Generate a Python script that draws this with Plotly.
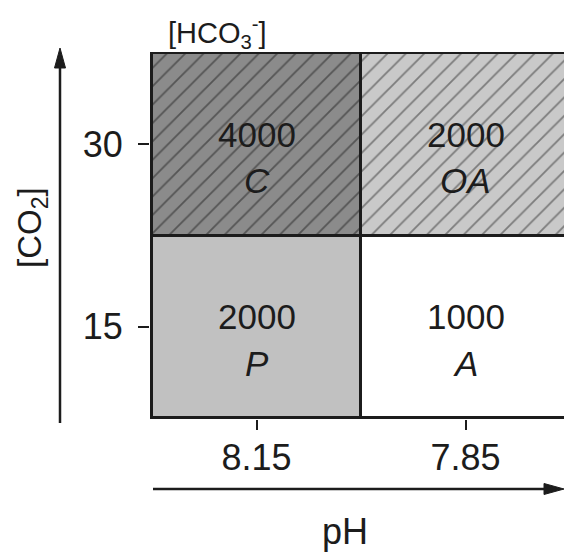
import plotly.graph_objects as go

# ---- data ----
ph_labels = ["8.15", "7.85"]          # columns (x)
co2_labels = ["15", "30"]             # rows (y), bottom to top
hco3_values = [[2000, 1000],          # row CO2 = 15
               [4000, 2000]]          # row CO2 = 30
treatments = [["P", "A"],
              ["C", "OA"]]
hatched = [[False, False],
           [True, True]]
fill_colors = {"P": "#c1c1c1", "A": "#ffffff", "C": "#8b8b8b", "OA": "#c9c9c9"}
hatch_colors = {"P": "#c1c1c1", "A": "#ffffff", "C": "#555555", "OA": "#7c7c7c"}

FONT = "Liberation Sans, Arial, sans-serif"
INK = "#1c1c1c"
W, H = 564, 552
ML, MR, MT, MB = 150, 0, 52, 133
PW, PH = W - ML - MR, H - MT - MB


def px(xp):
    return (xp - ML) / PW


def py(yp):
    return (H - MB - yp) / PH


fig = go.Figure()
annotations = []
for r, row in enumerate(treatments):
    for c, t in enumerate(row):
        pattern = dict(shape="/", fgcolor=hatch_colors[t], bgcolor=fill_colors[t],
                       size=13, solidity=0.14, fillmode="replace") if hatched[r][c] else dict(shape="")
        fig.add_trace(go.Bar(
            x=[c + 0.5], y=[1], base=[r], width=1,
            marker=dict(color=fill_colors[t], line=dict(color=INK, width=3), pattern=pattern),
            hoverinfo="skip", showlegend=False, name=t,
        ))
        annotations.append(dict(x=c + 0.5, y=r + 0.555, xref="x", yref="y",
                                text=str(hco3_values[r][c]), showarrow=False,
                                xanchor="center", yanchor="middle",
                                font=dict(size=35, color=INK, family=FONT)))
        annotations.append(dict(x=c + 0.5, y=r + 0.30, xref="x", yref="y",
                                text="<i>%s</i>" % t, showarrow=False,
                                xanchor="center", yanchor="middle",
                                font=dict(size=35, color=INK, family=FONT)))

annotations += [
    dict(x=px(32), y=py(228), xref="paper", yref="paper",
         text="[CO<sub>2</sub>]", textangle=-90, showarrow=False,
         xanchor="center", yanchor="middle",
         font=dict(size=33, color=INK, family=FONT)),
    dict(x=px(345), y=py(531), xref="paper", yref="paper",
         text="pH", showarrow=False, xanchor="center", yanchor="middle",
         font=dict(size=36, color=INK, family=FONT)),
    dict(x=px(217), y=py(33), xref="paper", yref="paper",
         text="[HCO<sub>3</sub><sup>-</sup>]", showarrow=False,
         xanchor="center", yanchor="middle",
         font=dict(size=29, color=INK, family=FONT)),
]

# arrows drawn as line + triangular head (paper coordinates)
arrow_shapes = [
    dict(type="line", xref="paper", yref="paper",
         x0=px(60), x1=px(60), y0=py(423), y1=py(64),
         line=dict(color=INK, width=2.5)),
    dict(type="path", xref="paper", yref="paper",
         path="M %f %f L %f %f L %f %f Z" % (px(54.5), py(68), px(65.5), py(68), px(60), py(48)),
         fillcolor=INK, line=dict(color=INK, width=1)),
    dict(type="line", xref="paper", yref="paper",
         x0=px(153), x1=px(548), y0=py(489), y1=py(489),
         line=dict(color=INK, width=2.5)),
    dict(type="path", xref="paper", yref="paper",
         path="M %f %f L %f %f L %f %f Z" % (px(544), py(483.5), px(544), py(494.5), px(564), py(489)),
         fillcolor=INK, line=dict(color=INK, width=1)),
]

fig.update_layout(
    width=W, height=H,
    margin=dict(l=ML, r=MR, t=MT, b=MB),
    paper_bgcolor="white", plot_bgcolor="white",
    barmode="overlay", bargap=0,
    annotations=annotations,
    shapes=arrow_shapes,
    xaxis=dict(range=[-0.0096, 1.971], tickvals=[0.5, 1.5], ticktext=ph_labels,
               ticks="outside", ticklen=10, tickwidth=2, tickcolor=INK,
               showgrid=False, zeroline=False, showline=False, fixedrange=True,
               tickfont=dict(size=36, color=INK, family=FONT), ticklabelstandoff=-3),
    yaxis=dict(range=[-0.005, 2.005], tickvals=[0.5, 1.5], ticktext=co2_labels,
               ticks="outside", ticklen=11, tickwidth=2, tickcolor=INK,
               showgrid=False, zeroline=False, showline=False, fixedrange=True,
               tickfont=dict(size=36, color=INK, family=FONT), ticklabelstandoff=8),
)

fig.write_html("out.html", config={"displayModeBar": False},
               post_script="document.body.style.margin='0';document.body.style.overflow='hidden';")
